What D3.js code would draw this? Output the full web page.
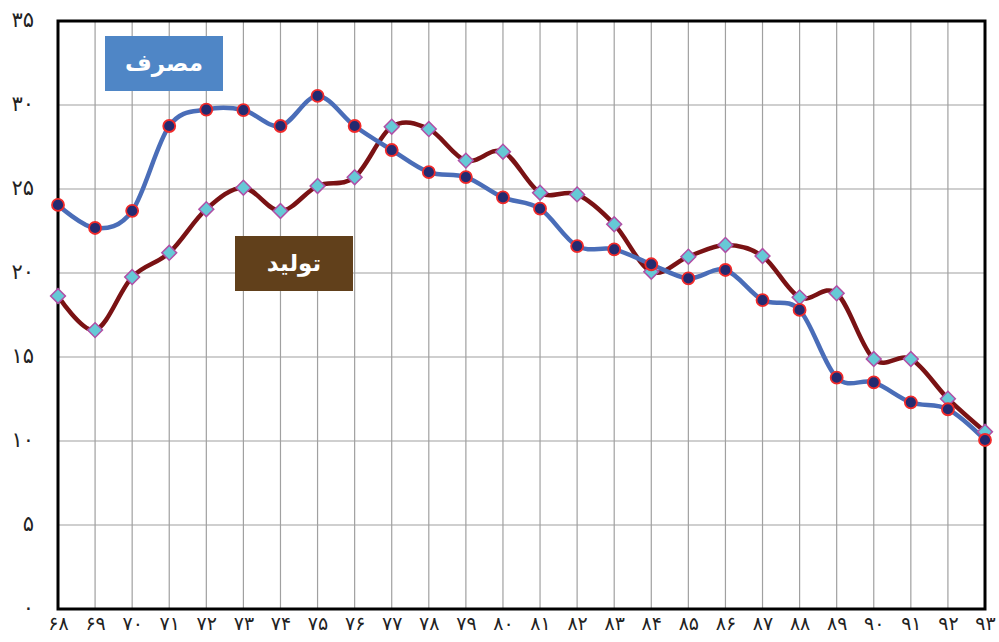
<!DOCTYPE html>
<html><head><meta charset="utf-8">
<script src="https://cdn.jsdelivr.net/npm/d3@7"></script>
<style>body{margin:0;background:#fff}svg{display:block}</style>
</head><body>
<svg id="c" width="999" height="642"></svg>
<script>
const years = [68,69,70,71,72,73,74,75,76,77,78,79,80,81,82,83,84,85,86,87,88,89,90,91,92,93];
const consumption = [24.05,22.68,23.7,28.75,29.73,29.7,28.75,30.54,28.75,27.32,26.0,25.71,24.5,23.83,21.6,21.41,20.52,19.68,20.18,18.39,17.8,13.77,13.49,12.3,11.89,10.06];
const production = [18.63,16.6,19.76,21.2,23.8,25.08,23.69,25.18,25.7,28.71,28.57,26.69,27.22,24.78,24.68,22.9,20.08,20.97,21.67,21.01,18.55,18.79,14.88,14.88,12.52,10.55];
const yTicks = [0,5,10,15,20,25,30,35];
const labelConsumption = "مصرف";
const labelProduction = "تولید";

const fa = n => String(n).replace(/\d/g, d => "۰۱۲۳۴۵۶۷۸۹"[d]);
const svg = d3.select("#c");
const L = 58, R = 985, T = 21, B = 609;
const x = d3.scalePoint().domain(years).range([L, R]);
const y = d3.scaleLinear().domain([0, 35]).range([B, T]);

// grid
svg.append("g").selectAll("line.v").data(years).join("line")
  .attr("x1", d => x(d)).attr("x2", d => x(d)).attr("y1", T).attr("y2", B)
  .attr("stroke", "#a0a0a0").attr("stroke-width", 1.2);
svg.append("g").selectAll("line.h").data(yTicks).join("line")
  .attr("x1", L).attr("x2", R).attr("y1", d => y(d)).attr("y2", d => y(d))
  .attr("stroke", "#a0a0a0").attr("stroke-width", 1.2);

// frame
svg.append("rect").attr("x", L).attr("y", T).attr("width", R - L).attr("height", B - T)
  .attr("fill", "none").attr("stroke", "#000").attr("stroke-width", 3);

// axis labels
const yAxis = d3.axisLeft(y).tickValues(yTicks).tickFormat(fa).tickSize(0).tickPadding(24);
const gy = svg.append("g").attr("transform", `translate(${L},0)`).call(yAxis);
gy.select(".domain").remove();
gy.selectAll("text").attr("font-family", "DejaVu Sans").attr("font-size", 21).attr("fill", "#222")
  .attr("dy", "0.25em");

const xAxis = d3.axisBottom(x).tickFormat(fa).tickSize(0);
const gx = svg.append("g").attr("transform", `translate(0,${B})`).call(xAxis);
gx.select(".domain").remove();
gx.selectAll("text").attr("font-family", "DejaVu Sans").attr("font-size", 19).attr("fill", "#222")
  .attr("y", 21).attr("dy", 0);

const line = d3.line().x((d, i) => x(years[i])).y(d => y(d)).curve(d3.curveCatmullRom.alpha(0));

svg.append("path").datum(production).attr("d", line)
  .attr("fill", "none").attr("stroke", "#7a1214").attr("stroke-width", 4.5);
svg.append("path").datum(consumption).attr("d", line)
  .attr("fill", "none").attr("stroke", "#4a6db8").attr("stroke-width", 4.5);

// production diamonds
svg.append("g").selectAll("path").data(production).join("path")
  .attr("d", d3.symbol(d3.symbolSquare, 110))
  .attr("transform", (d, i) => `translate(${x(years[i])},${y(d)}) rotate(45)`)
  .attr("fill", "#66c9d6").attr("stroke", "#b04fa6").attr("stroke-width", 1.5);

// consumption circles
svg.append("g").selectAll("circle").data(consumption).join("circle")
  .attr("cx", (d, i) => x(years[i])).attr("cy", d => y(d)).attr("r", 6)
  .attr("fill", "#232a70").attr("stroke", "#f02a2a").attr("stroke-width", 1.8);

// labels
function tag(x0, y0, w, h, fill, text) {
  svg.append("rect").attr("x", x0).attr("y", y0).attr("width", w).attr("height", h).attr("fill", fill);
  svg.append("text").attr("x", x0 + w / 2).attr("y", y0 + h / 2 + 1)
    .attr("text-anchor", "middle").attr("dominant-baseline", "middle")
    .attr("font-family", "DejaVu Sans").attr("font-weight", "bold").attr("font-size", 23)
    .attr("fill", "#fff").text(text);
}
tag(105, 36, 118, 55, "#4f86c6", labelConsumption);
tag(235, 236, 118, 55, "#61401b", labelProduction);
</script>
</body></html>
